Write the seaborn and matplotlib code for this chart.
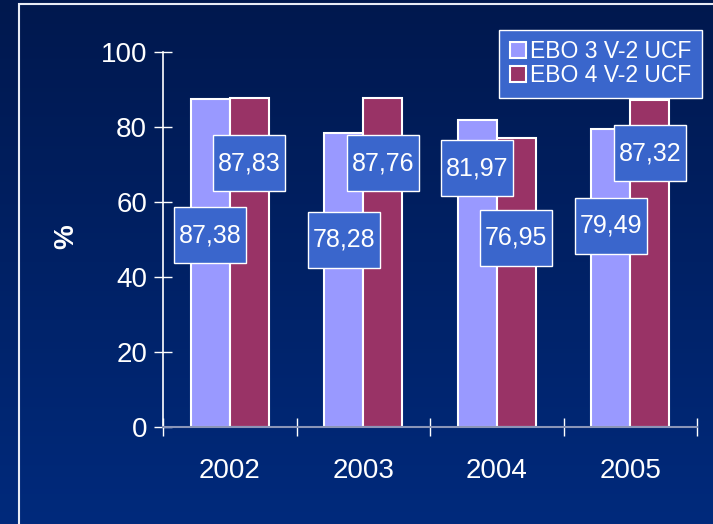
import numpy as np
import pandas as pd
import matplotlib
matplotlib.use("Agg")
import matplotlib.pyplot as plt
from matplotlib.patches import Rectangle
import seaborn as sns

years = ["2002", "2003", "2004", "2005"]
series_names = ["EBO 3 V-2 UCF", "EBO 4 V-2 UCF"]
ebo3 = [87.38, 78.28, 81.97, 79.49]
ebo4 = [87.83, 87.76, 76.95, 87.32]
yticks = [0, 20, 40, 60, 80, 100]

# label box vertical positions (layout, in data units)
label_y3 = [51.2, 49.9, 69.0, 53.6]
label_y4 = [70.4, 70.4, 50.4, 73.0]

df = pd.DataFrame({
    "year": years * 2,
    "series": [series_names[0]] * 4 + [series_names[1]] * 4,
    "value": ebo3 + ebo4,
})

sns.set_theme(style="white")
plt.rcParams["font.family"] = ["Liberation Sans", "DejaVu Sans"]

fig = plt.figure(figsize=(7.13, 5.24), dpi=100)

# gradient background
bg = fig.add_axes([0, 0, 1, 1], zorder=-10)
grad = np.linspace(0, 1, 256).reshape(-1, 1)
top = np.array([0x00, 0x18, 0x4E]) / 255
bot = np.array([0x00, 0x2A, 0x7C]) / 255
img = top[None, None, :] * (1 - grad[:, :, None]) + bot[None, None, :] * grad[:, :, None]
bg.imshow(img, aspect="auto", extent=[0, 1, 0, 1], origin="upper")
bg.set_axis_off()
bg.add_patch(Rectangle((19 / 713, -0.1), 1.2, 0.1 + (524 - 4) / 524, transform=bg.transAxes,
                       fill=False, edgecolor="#E8ECF5", linewidth=1.5, clip_on=True))

ax = fig.add_axes([163 / 713, 97 / 524, 534 / 713, 375 / 524])
ax.set_facecolor("none")

palette = {series_names[0]: "#9999FF", series_names[1]: "#993366"}
sns.barplot(data=df, x="year", y="value", hue="series", palette=palette,
            width=0.585, edgecolor="white", linewidth=1.5, saturation=1,
            ax=ax, legend=True)

ax.set_ylim(0, 100)
ax.set_xlim(-0.5, 3.5)
ax.set_yticks(yticks)
ax.set_yticklabels([str(v) for v in yticks], color="white", fontsize=20)
ax.tick_params(axis="y", direction="inout", length=13, width=1, color="white", pad=5, left=True)
ax.set_xticks(range(4))
ax.set_xticklabels(years, color="white", fontsize=20)
ax.tick_params(axis="x", which="major", length=0, pad=22)
ax.set_xticks([-0.5, 0.5, 1.5, 2.5, 3.5], minor=True)
ax.tick_params(axis="x", which="minor", direction="inout", length=13, width=1, color="white", bottom=True)

for s in ["top", "right"]:
    ax.spines[s].set_visible(False)
ax.spines["left"].set_color("white")
ax.spines["left"].set_linewidth(1.2)
ax.spines["bottom"].set_color("#8A95B8")
ax.spines["bottom"].set_linewidth(1.5)

ax.set_xlabel("")
ax.set_ylabel("")
fig.text(66 / 713, 1 - 237 / 524, "%", color="white", fontsize=20, fontweight="bold",
         rotation=90, ha="center", va="center")

# value labels
bar_w = 0.585 / 2
box_w = 72 / (534 / 4)
box_h = 56 / 3.75
for i in range(4):
    for vals, lys, off in ((ebo3, label_y3, -bar_w / 2), (ebo4, label_y4, bar_w / 2)):
        cx = i + off
        ax.add_patch(Rectangle((cx - box_w / 2, lys[i] - box_h / 2), box_w, box_h,
                               facecolor="#3A66CC", edgecolor="white", linewidth=1, zorder=4))
        ax.text(cx, lys[i], f"{vals[i]:.2f}".replace(".", ","), color="white", fontsize=18,
                ha="center", va="center", zorder=5)

leg = ax.legend(loc="upper right", bbox_to_anchor=(702 / 713, 494 / 524),
                bbox_transform=fig.transFigure, frameon=True, fancybox=False,
                fontsize=16.5, handlelength=0.7, handleheight=0.7, handletextpad=0.2,
                labelspacing=0.05, borderpad=0.45, borderaxespad=0)
frame = leg.get_frame()
frame.set_facecolor("#3A66CC")
frame.set_edgecolor("white")
frame.set_alpha(1)
for t in leg.get_texts():
    t.set_color("white")
for h in leg.legend_handles:
    h.set_edgecolor("white")
    h.set_linewidth(1.5)

fig.savefig("out.png", dpi=100)
